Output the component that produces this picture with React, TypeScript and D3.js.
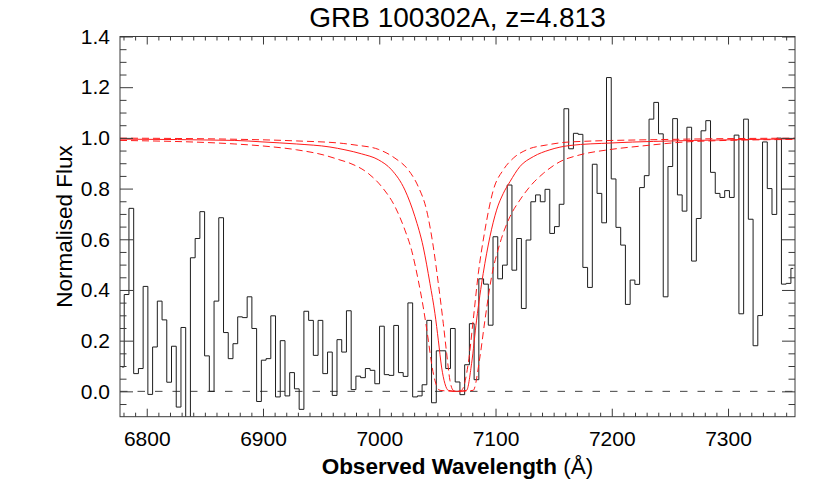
import React from "react";
import * as d3 from "d3";

// spectrum binning (Angstrom): centre of first bin and bin width
const binStart = 6778.6;
const binWidth = 4.067;

// normalised flux per bin
const flux = [
  0.096, 0.382, 0.722, 0.07, 0.09, 0.414, -0.012, 0.175, 0.356, 0.282,
  0.036, 0.178, -0.062, 0.252, -0.16, 0.527, 0.603, 0.709, 0.14, 0.0,
  0.356, 0.685, 0.232, 0.129, 0.188, 0.294, 0.291, 0.373, 0.248, -0.04,
  0.123, 0.129, 0.298, -0.022, 0.2, -0.018, 0.074, 0.01, -0.071, 0.316,
  0.28, 0.142, 0.28, 0.07, 0.155, -0.016, 0.204, 0.155, 0.318, 0.007,
  0.06, 0.054, 0.09, 0.083, 0.03, 0.257, 0.066, 0.063, 0.26, 0.074,
  0.059, 0.349, -0.022, -0.018, 0.026, 0.28, -0.045, 0.16, 0.16, 0.09,
  0.248, 0.037, -0.013, 0.105, 0.267, 0.046, 0.444, 0.423, 0.261, 0.61,
  0.444, 0.498, 0.814, 0.478, 0.603, 0.327, 0.597, 0.748, 0.775, 0.748,
  0.797, 0.623, 0.65, 0.738, 1.115, 0.957, 1.018, 1.014, 0.489, 0.41,
  0.896, 0.781, 0.665, 1.238, 0.838, 0.647, 0.577, 0.343, 0.439, 0.422,
  0.804, 0.851, 1.074, 1.14, 1.016, 0.373, 0.887, 1.076, 0.775, 0.711,
  1.042, 0.514, 0.682, 1.028, 1.068, 0.864, 0.781, 0.765, 0.792, 0.765,
  1.011, 0.306, 1.074, 0.679, 0.18, 0.299, 0.984, 0.8, 0.698, 0.999,
  0.423, 0.426, 0.485,
];

// DLA model, best fit (solid)
const bestWave = [
  6777, 6875.8, 6900, 6928.9, 6957.6, 6970.5, 6984.8, 6999.1, 7010.6, 7022.1,
  7030.7, 7037.8, 7043.6, 7047.9, 7050.8, 7053.6, 7056.5, 7059.4, 7066.7, 7075.1,
  7079.4, 7083.7, 7089.4, 7095.2, 7100.9, 7106.7, 7112.4, 7121.0, 7132.5, 7146.8,
  7164.0, 7200, 7271.5, 7357.6,
];
const bestFlux = [
  0.995, 0.99, 0.984, 0.976, 0.964, 0.953, 0.937, 0.914, 0.874, 0.794,
  0.689, 0.57, 0.426, 0.307, 0.202, 0.096, 0.03, 0.004, 0, 0.004,
  0.109, 0.281, 0.465, 0.61, 0.715, 0.781, 0.827, 0.887, 0.926, 0.953,
  0.97, 0.98, 0.99, 0.996,
];

// DLA model, lower column density (dashed, narrow)
const upperWave = [
  6777, 6871.7, 6928.9, 6969.0, 6979.1, 6999.1, 7013.5, 7024.9, 7033.5, 7040.7,
  7046.5, 7050.8, 7055.1, 7058.0, 7060.8, 7063.7, 7067.2, 7070.8, 7076.5, 7080.8,
  7085.2, 7090.9, 7098.1, 7106.7, 7115.3, 7126.8, 7144.0, 7164.0, 7250, 7357.6,
];
const upperFlux = [
  0.999, 0.995, 0.988, 0.978, 0.972, 0.955, 0.92, 0.874, 0.808, 0.715,
  0.57, 0.426, 0.267, 0.149, 0.043, 0.004, 0, 0.004, 0.109, 0.281,
  0.465, 0.636, 0.794, 0.874, 0.92, 0.953, 0.972, 0.984, 0.994, 0.999,
];

// DLA model, higher column density (dashed, broad)
const lowerWave = [
  6777, 6875.8, 6900, 6928.9, 6951.8, 6966.2, 6974.8, 6990.5, 7002.0, 7013.5,
  7022.1, 7027.8, 7033.5, 7037.8, 7042.2, 7045.0, 7047.9, 7052.2, 7066.5, 7080.8,
  7086.6, 7090.9, 7096.6, 7103.8, 7112.4, 7121.0, 7129.6, 7141.1, 7155.4, 7172.6,
  7197.0, 7225.7, 7271.5, 7357.6,
];
const lowerFlux = [
  0.99, 0.976, 0.968, 0.953, 0.933, 0.913, 0.9, 0.86, 0.808, 0.729,
  0.636, 0.557, 0.439, 0.333, 0.202, 0.109, 0.043, 0.004, 0, 0.004,
  0.136, 0.281, 0.452, 0.584, 0.689, 0.755, 0.808, 0.86, 0.906, 0.933,
  0.953, 0.968, 0.986, 0.994,
];

const xTicks = [6800, 6900, 7000, 7100, 7200, 7300];
const yTicks = [0, 0.2, 0.4, 0.6, 0.8, 1.0, 1.2, 1.4];

const title = "GRB 100302A, z=4.813";

export default function App() {
  const ref = React.useRef<SVGSVGElement>(null);

  React.useEffect(() => {
    drawChart();
  }, []);

  function drawChart() {
    const width = 830;
    const height = 493;
    const margin = { top: 36.5, right: 35, bottom: 76.3, left: 120 };
    const font = "'Liberation Sans', Arial, Helvetica, sans-serif";
    const axisColor = "#3a3a3a";

    const svg = d3.select(ref.current);
    svg.selectAll("*").remove();
    svg.attr("width", width).attr("height", height);

    const x = d3
      .scaleLinear()
      .domain([6777, 7357.6])
      .range([margin.left, width - margin.right]);
    const y = d3
      .scaleLinear()
      .domain([-0.1, 1.4])
      .range([height - margin.bottom, margin.top]);

    svg.append("defs")
      .append("clipPath")
      .attr("id", "plotClip")
      .append("rect")
      .attr("x", margin.left)
      .attr("y", margin.top)
      .attr("width", width - margin.left - margin.right)
      .attr("height", height - margin.top - margin.bottom);

    const plot = svg.append("g").attr("clip-path", "url(#plotClip)");

    // zero level
    plot.append("line")
      .attr("x1", margin.left)
      .attr("x2", width - margin.right)
      .attr("y1", y(0))
      .attr("y2", y(0))
      .attr("stroke", "#444")
      .attr("stroke-width", 1)
      .attr("stroke-dasharray", "7.5,10");

    // spectrum as histogram
    const spec = flux.map((f, i) => ({ w: binStart + i * binWidth, f }));
    const stepLine = d3
      .line<{ w: number; f: number }>()
      .x((d) => x(d.w))
      .y((d) => y(d.f))
      .curve(d3.curveStep);
    plot.append("path")
      .attr("d", stepLine(spec))
      .attr("fill", "none")
      .attr("stroke", "#1e1e1e")
      .attr("stroke-width", 1);

    // model curves
    const curves = [
      { wave: bestWave, fl: bestFlux, dash: null },
      { wave: upperWave, fl: upperFlux, dash: "7,4" },
      { wave: lowerWave, fl: lowerFlux, dash: "7,4" },
    ];
    curves.forEach((c) => {
      const line = d3
        .line<number>()
        .x((d) => x(c.wave[d]))
        .y((d) => y(c.fl[d]))
        .curve(d3.curveMonotoneX);
      const p = plot.append("path")
        .attr("d", line(d3.range(c.wave.length)))
        .attr("fill", "none")
        .attr("stroke", "#ff1a1a")
        .attr("stroke-width", 1);
      if (c.dash) p.attr("stroke-dasharray", c.dash);
    });

    // axes: ticks point inward on all four sides
    const xMinor = d3.range(6780, 7360, 10).filter((v) => v % 100 !== 0);
    const yMinor = d3.range(-0.05, 1.4, 0.05).filter((v) => Math.abs(Math.round(v * 5) - v * 5) > 0.01);

    const bottom = svg.append("g").attr("transform", `translate(0,${height - margin.bottom})`);
    bottom.call(d3.axisBottom(x).tickValues(xTicks).tickSize(-8).tickPadding(14).tickFormat(d3.format("d")));
    bottom.select(".domain").remove();
    const bottomMinor = svg.append("g").attr("transform", `translate(0,${height - margin.bottom})`);
    bottomMinor.call(d3.axisBottom(x).tickValues(xMinor).tickSize(-4).tickFormat(() => ""));
    bottomMinor.select(".domain").remove();

    const top = svg.append("g").attr("transform", `translate(0,${margin.top})`);
    top.call(d3.axisTop(x).tickValues(xTicks).tickSize(-8).tickFormat(() => ""));
    top.select(".domain").remove();
    const topMinor = svg.append("g").attr("transform", `translate(0,${margin.top})`);
    topMinor.call(d3.axisTop(x).tickValues(xMinor).tickSize(-4).tickFormat(() => ""));
    topMinor.select(".domain").remove();

    const left = svg.append("g").attr("transform", `translate(${margin.left},0)`);
    left.call(d3.axisLeft(y).tickValues(yTicks).tickSize(-13).tickPadding(10).tickFormat(d3.format(".1f")));
    left.select(".domain").remove();
    const leftMinor = svg.append("g").attr("transform", `translate(${margin.left},0)`);
    leftMinor.call(d3.axisLeft(y).tickValues(yMinor).tickSize(-6.5).tickFormat(() => ""));
    leftMinor.select(".domain").remove();

    const right = svg.append("g").attr("transform", `translate(${width - margin.right},0)`);
    right.call(d3.axisRight(y).tickValues(yTicks).tickSize(-13).tickFormat(() => ""));
    right.select(".domain").remove();
    const rightMinor = svg.append("g").attr("transform", `translate(${width - margin.right},0)`);
    rightMinor.call(d3.axisRight(y).tickValues(yMinor).tickSize(-6.5).tickFormat(() => ""));
    rightMinor.select(".domain").remove();

    svg.selectAll(".tick line").attr("stroke", axisColor);
    svg.selectAll(".tick text")
      .attr("font-family", font)
      .attr("font-size", 21)
      .attr("fill", "#000");

    // frame
    svg.append("rect")
      .attr("x", margin.left)
      .attr("y", margin.top)
      .attr("width", width - margin.left - margin.right)
      .attr("height", height - margin.top - margin.bottom)
      .attr("fill", "none")
      .attr("stroke", axisColor)
      .attr("stroke-width", 1);

    // labels
    svg.append("text")
      .attr("x", (margin.left + width - margin.right) / 2)
      .attr("y", 27)
      .attr("text-anchor", "middle")
      .attr("font-family", font)
      .attr("font-size", 28)
      .text(title);

    const xl = svg.append("text")
      .attr("x", (margin.left + width - margin.right) / 2)
      .attr("y", 474)
      .attr("text-anchor", "middle")
      .attr("font-family", font)
      .attr("font-size", 22.5);
    xl.append("tspan").attr("font-weight", "bold").text("Observed Wavelength ");
    xl.append("tspan").text("(Å)");

    svg.append("text")
      .attr("transform", `translate(72,${(margin.top + height - margin.bottom) / 2}) rotate(-90)`)
      .attr("text-anchor", "middle")
      .attr("font-family", font)
      .attr("font-size", 22.5)
      .text("Normalised Flux");
  }

  return <svg ref={ref} style={{ position: "absolute", left: 0, top: 0, background: "#fff" }} />;
}
